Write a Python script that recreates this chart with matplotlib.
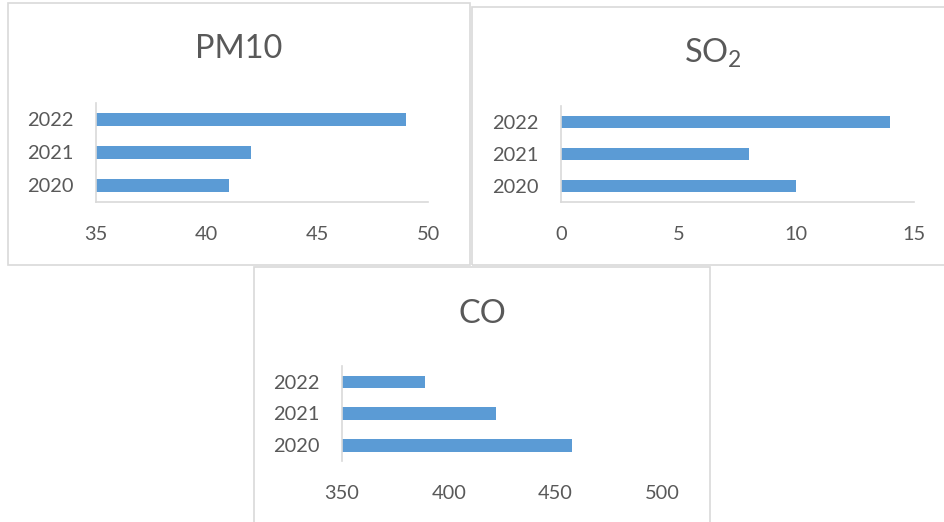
import matplotlib.pyplot as plt
from matplotlib.patches import Rectangle

years = ['2020', '2021', '2022']
pm10 = [41, 42, 49]
so2 = [10, 8, 14]
co = [458, 422, 389]

plt.rcParams['font.family'] = ['Lato', 'DejaVu Sans']
plt.rcParams['mathtext.fontset'] = 'custom'
plt.rcParams['mathtext.rm'] = 'Lato'

W, H = 945, 522
BAR = '#5B9BD5'
TXT = '#595959'
LINE = '#D9D9D9'

fig = plt.figure(figsize=(W / 100, H / 100), dpi=100)


def px_box(x0, y0, x1, y1):
    # pixel box (top-left origin) -> figure fraction [l, b, w, h]
    return [x0 / W, 1 - y1 / H, (x1 - x0) / W, (y1 - y0) / H]


def frame(x0, y0, x1, y1):
    l, b, w, h = px_box(x0, y0, x1, y1)
    fig.patches.append(Rectangle((l, b), w, h, transform=fig.transFigure,
                                 fill=False, edgecolor=LINE, linewidth=1.2))


def panel(box, values, xlim, ticks, title, title_xy, show_x_line=True):
    ax = fig.add_axes(px_box(*box))
    ax.barh(range(len(years)), values, height=0.4, color=BAR)
    ax.set_xlim(*xlim)
    ax.set_ylim(-0.5, len(years) - 0.5)
    ax.set_xticks(ticks)
    ax.set_yticks(range(len(years)))
    ax.set_yticklabels(years)
    ax.tick_params(length=0, labelsize=14.4, labelcolor=TXT)
    ax.tick_params(axis='x', pad=17)
    ax.tick_params(axis='y', pad=16)
    for s in ['top', 'right']:
        ax.spines[s].set_visible(False)
    ax.spines['left'].set_color(LINE)
    ax.spines['left'].set_linewidth(1.2)
    ax.spines['bottom'].set_color(LINE)
    ax.spines['bottom'].set_linewidth(1.2)
    ax.spines['bottom'].set_visible(show_x_line)
    ax.set_facecolor('none')
    fig.text(title_xy[0] / W, 1 - title_xy[1] / H, title, fontsize=23.4,
             color=TXT, ha='center', va='baseline')
    return ax


frame(8, 3, 470, 265)
frame(472, 7, 950, 265)
frame(254, 267, 710, 530)

panel((96, 103, 428, 202), pm10, (35, 50), [35, 40, 45, 50], 'PM10', (239, 58))
panel((561, 106, 914, 202), so2, (0, 15), [0, 5, 10, 15], r'SO$_{\mathrm{2}}$', (713, 63))
panel((342, 366, 662, 461), co, (350, 500), [350, 400, 450, 500], 'CO', (482, 323),
      show_x_line=False)

fig.savefig('out.png', dpi=100)
